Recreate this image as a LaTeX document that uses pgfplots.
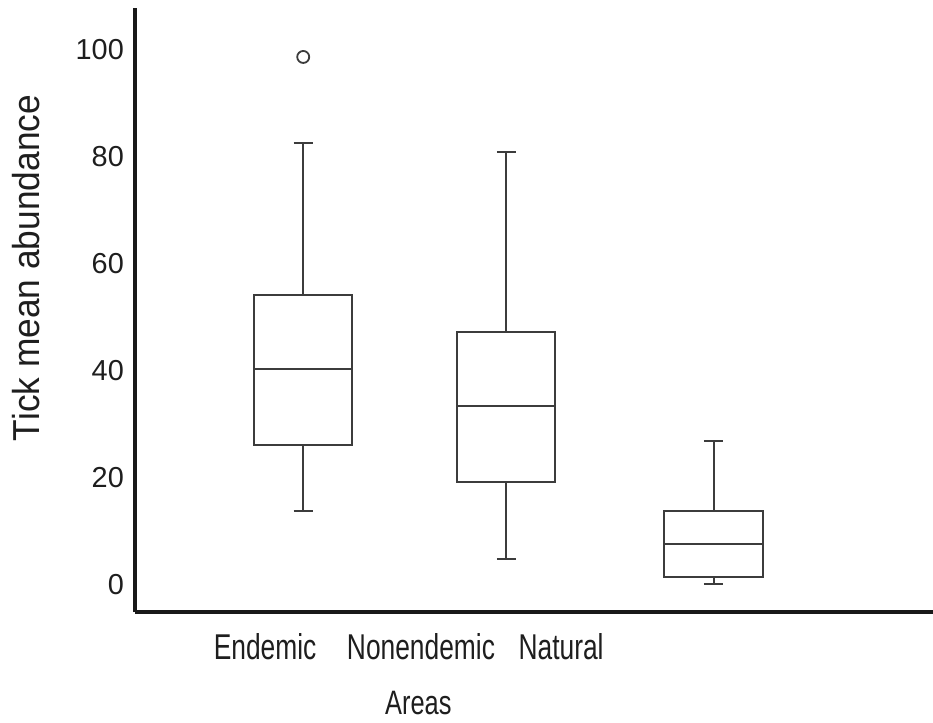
\documentclass[border=0pt]{standalone}
\usepackage{fontspec}
\setmainfont{Liberation Sans}
\newfontfamily\catfont[FakeStretch=0.735]{Liberation Sans}
\newfontfamily\xlabfont[FakeStretch=0.75]{Liberation Sans}
\newfontfamily\ylabfont[FakeStretch=0.94]{Liberation Sans}
\usepackage{pgfplots}
\pgfplotsset{compat=1.18}
\usepgfplotslibrary{statistics}
\definecolor{boxc}{RGB}{60,60,60}
\definecolor{axc}{RGB}{25,25,25}
\definecolor{txt}{RGB}{30,30,30}
\begin{document}
\begin{tikzpicture}
\begin{axis}[
  at={(135bp,111bp)}, anchor=south west,
  scale only axis, width=798bp, height=604bp,
  xmin=1.8, xmax=40.7, ymin=-5.05, ymax=107.85,
  axis x line=bottom, axis y line=left,
  axis line style={-, line width=4bp, draw=axc},
  tick style={draw=none},
  ytick={0,20,40,60,80,100},
  xtick={8.14,15.74,22.57},
  xticklabels={Endemic,Nonendemic,Natural},
  xticklabel style={font=\catfont\fontsize{36}{40}\selectfont, text=txt, anchor=base, yshift=-45bp},
  yticklabel style={font=\fontsize{29}{31}\selectfont, text=txt, xshift=-5.5bp},
  /pgf/number format/assume math mode=true,
  xlabel={Areas}, ylabel={Tick mean abundance},
  xlabel style={font=\xlabfont\fontsize{34}{38}\selectfont, text=txt, at={(axis description cs:0.355,-0.169)}, anchor=base},
  ylabel style={font=\ylabfont\fontsize{37.7}{40}\selectfont, text=txt, at={(axis description cs:-0.136,0.5695)}, anchor=center},
  boxplot/draw direction=y,
  clip=false,
]
\addplot[boxc, line width=2bp,
  boxplot prepared={draw direction=y, draw position=10, box extend=4.78, whisker extend=0.93, lower whisker=13.9, lower quartile=26.2, median=40.3, upper quartile=54.2, upper whisker=82.7}]
  coordinates {};
\addplot[boxc, line width=2bp,
  boxplot prepared={draw direction=y, draw position=19.9, box extend=4.78, whisker extend=0.93, lower whisker=4.9, lower quartile=19.3, median=33.5, upper quartile=47.3, upper whisker=80.9}]
  coordinates {};
\addplot[boxc, line width=2bp,
  boxplot prepared={draw direction=y, draw position=30, box extend=4.78, whisker extend=0.93, lower whisker=0.2, lower quartile=1.5, median=7.6, upper quartile=13.8, upper whisker=26.9}]
  coordinates {};
\addplot[boxc, only marks, mark=o, mark size=6bp, mark options={line width=1.8bp}] coordinates {(10,98.7)};
\end{axis}
\pgfresetboundingbox
\path[use as bounding box] (0,0) rectangle (933bp,723bp);
\end{tikzpicture}
\end{document}
